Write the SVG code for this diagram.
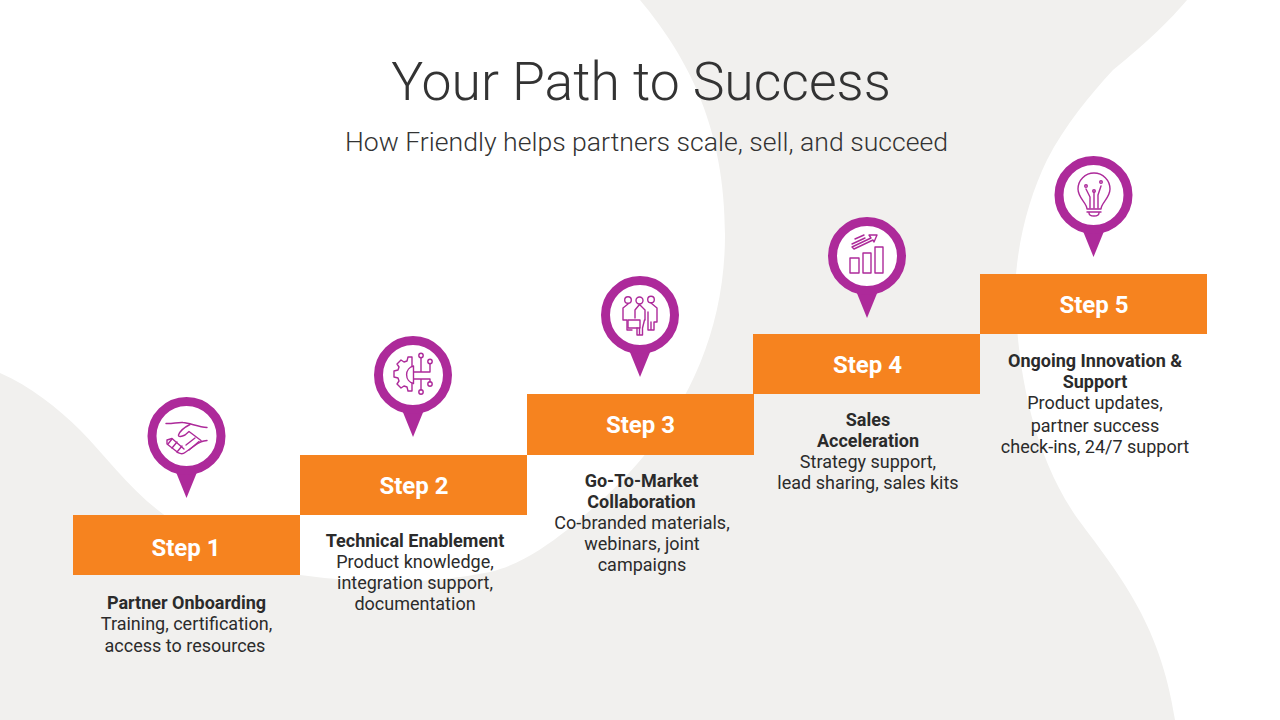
<svg xmlns="http://www.w3.org/2000/svg" width="1280" height="720" viewBox="0 0 1280 720">
<defs>
<style>
text{font-family:Roboto,"Liberation Sans",sans-serif;text-anchor:middle}
.t{font-size:53.500px;font-weight:300;fill:#333}
.s{font-size:26.600px;font-weight:300;fill:#333}
.st{font-size:24px;font-weight:700;fill:#fff}
.h{font-size:18px;font-weight:700;fill:#2b2b2b}
.b{font-size:18px;font-weight:400;fill:#2b2b2b}
.box{fill:#f6831f}
.i{fill:none;stroke:#ad2a9a;stroke-width:1.400;stroke-linecap:round;stroke-linejoin:round}
</style>
<g id="pin"><path d="M-13 30L0 62L13 30Z" fill="#ad2a9a"/><circle r="34.500" fill="#fff" stroke="#ad2a9a" stroke-width="9"/></g>
</defs>
<rect width="1280" height="720" fill="#fff"/>
<path id="bg" fill="#f1f0ee" d="M640 0H1187C1170 20 1150 40 1113 70C1090 95 1065 125 1047 160C1030 195 1017 240 1015 290C1017 370 1032 450 1075 515C1115 570 1160 620 1175 720H0V373C30 386 58 408 80 430C105 455 130 490 163 514C195 540 250 568 300 575C380 586 440 582 490 572C520 565 545 547 567 530C595 507 620 485 643 457C695 395 725 320 725 235C725 130 690 60 640 0Z"/>
<g id="title"><text class="t" x="641" y="100">Your Path to Success</text><text class="s" x="646.500" y="151">How Friendly helps partners scale, sell, and succeed</text></g>
<g id="connectors"></g>
<g id="step1"><rect class="box" x="73" y="515" width="227" height="60"/><text class="st" x="186" y="556">Step 1</text>
<use href="#pin" x="186.500" y="436"/>
<g class="i"><path d="M166 423.500C172 424 178 422 183 422.500C190 423 198 427 207 427.500"/><path d="M190 424.500C185 427 180 431 178.500 435C178 437.500 182 436.500 185 435L189 431.500L201 440.500"/><path d="M207 440.500C203 441 200 441.500 197 444L185 452.500C182 455 178 453 176 451L167 444L167 440L172 438.500L184 449"/><path d="M195 438l-9 7M199 441.500l-10 8.500M172 439l-4 5M177 442l-5 6M182 446l-5 6"/></g>
<text class="h" x="186.500" y="609">Partner Onboarding</text><text class="b" x="186.500" y="630">Training, certification,</text><text class="b" x="185" y="652">access to resources</text></g>
<g id="step2"><rect class="box" x="300" y="455" width="227" height="60"/><text class="st" x="414" y="494">Step 2</text>
<use href="#pin" x="413" y="375"/>
<g class="i"><path d="M412 357h-4l-1 4-3 1-3-2-4 4 2 3-1 3-4 1v6l4 1 1 3-2 3 4 4 3-2 3 1 1 4h4v-7.500M412 357v9"/><path d="M413.500 366a9 9 0 0 0 0 17.500z"/><path d="M414 372h16v-8M414 379h16v3M421 358v14M421 379v11"/><circle cx="421" cy="355.500" r="2.200"/><circle cx="430" cy="361.500" r="2.200"/><circle cx="430" cy="384" r="2.200"/><circle cx="421" cy="392" r="2.200"/></g>
<text class="h" x="415" y="547">Technical Enablement</text><text class="b" x="415" y="568">Product knowledge,</text><text class="b" x="415" y="589">integration support,</text><text class="b" x="415" y="610">documentation</text></g>
<g id="step3"><rect class="box" x="527" y="394" width="227" height="61"/><text class="st" x="640.500" y="433">Step 3</text>
<use href="#pin" x="640" y="315"/>
<g class="i"><circle cx="628" cy="300" r="3.300"/><circle cx="639.500" cy="300.500" r="3.500"/><circle cx="651" cy="299.500" r="3.300"/><path d="M628 304l-5 4v12h4v10h5"/><path d="M635 318v-8l4.500-5.500 5.500 5.500v10"/><rect x="628" y="320" width="12" height="8"/><path d="M637 328v7h2.500v-7M640 335h2.500v-7M642.500 328l2-8"/><path d="M651 303l6 5v14h-3v8h-6v-10M648 328v-16M651 322v8"/></g>
<text class="h" x="641.500" y="487">Go-To-Market</text><text class="h" x="641.500" y="508">Collaboration</text><text class="b" x="642" y="529">Co-branded materials,</text><text class="b" x="642" y="550">webinars, joint</text><text class="b" x="642" y="571">campaigns</text></g>
<g id="step4"><rect class="box" x="753" y="334" width="227" height="60"/><text class="st" x="867.500" y="373">Step 4</text>
<use href="#pin" x="867" y="256"/>
<g class="i"><rect x="850" y="258" width="9" height="15"/><rect x="863" y="253" width="8" height="20"/><rect x="875" y="247" width="8" height="26"/><path d="M852 247L871 238L869 235L877 235L874 242L873 240L854 249z"/><path d="M855 239l9-4M852 244l13-6"/></g>
<text class="h" x="868" y="426">Sales</text><text class="h" x="868" y="447">Acceleration</text><text class="b" x="868" y="468">Strategy support,</text><text class="b" x="868" y="489">lead sharing, sales kits</text></g>
<g id="step5"><rect class="box" x="980" y="274" width="227" height="60"/><text class="st" x="1094" y="313">Step 5</text>
<use href="#pin" x="1093.500" y="195"/>
<g class="i"><path d="M1087 209C1087 203 1078 198 1078 189A16 16 0 0 1 1110 189C1110 198 1101 203 1101 209Z"/><path d="M1087 212h14M1089 213c0 4 10 4 10 0"/><path d="M1090 208v-11l-4-8M1094 208v-16M1098 208v-13l3-9"/><circle cx="1086" cy="186" r="1.300"/><circle cx="1094" cy="191" r="1.300"/><circle cx="1101" cy="182" r="1.300"/></g>
<text class="h" x="1095" y="367">Ongoing Innovation &amp;</text><text class="h" x="1095" y="388">Support</text><text class="b" x="1095" y="409">Product updates,</text><text class="b" x="1095" y="432">partner success</text><text class="b" x="1095" y="453">check-ins, 24/7 support</text></g>
</svg>
